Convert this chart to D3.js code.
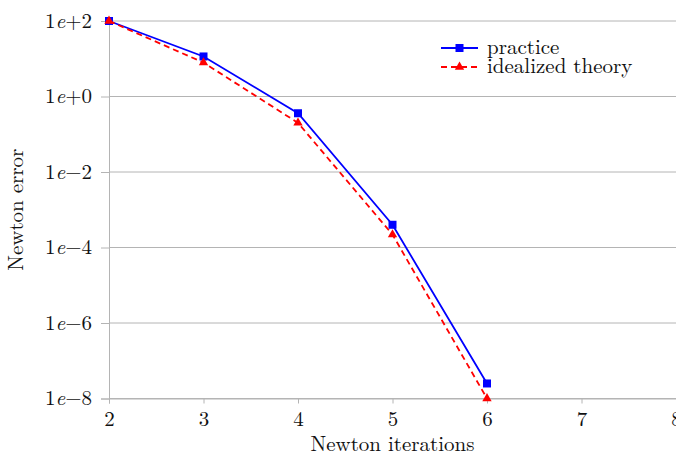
<!DOCTYPE html>
<html>
<head>
<meta charset="utf-8">
<script src="https://d3js.org/d3.v7.min.js"></script>
<style>
  body { margin: 0; background: #fff; }
  text { font-family: "Latin Modern Roman", "DejaVu Serif", serif; fill: #111; }
</style>
</head>
<body>
<script>
// values (Newton error per iteration)
const iterations = [2, 3, 4, 5, 6];
const practice = [100, 11.5, 0.36, 4.0e-4, 2.5e-8];
const theory = [100, 7.9, 0.2, 2.2e-4, 1e-8];
const xTicks = [2, 3, 4, 5, 6, 7, 8];
const yTicks = [1e2, 1, 1e-2, 1e-4, 1e-6, 1e-8];
const yExps = ["+2", "+0", "\u22122", "\u22124", "\u22126", "\u22128"];

const width = 676, height = 456;
const plotLeft = 109, plotRight = 676, plotTop = 21, plotBottom = 398.5;

const svg = d3.select("body").append("svg")
    .attr("width", width)
    .attr("height", height);

const x = d3.scaleLinear().domain([2, 8]).range([plotLeft, plotRight]);
const y = d3.scaleLog().domain([1e-8, 1e2]).range([plotBottom, plotTop]);

const grey = "#b4b4b4";
const fs = 21;

// horizontal grid
svg.append("g").selectAll("line")
    .data(yTicks)
    .enter().append("line")
    .attr("x1", plotLeft).attr("x2", plotRight)
    .attr("y1", d => y(d)).attr("y2", d => y(d))
    .attr("stroke", grey).attr("stroke-width", 1);

// axes
const xAxis = svg.append("g")
    .attr("transform", "translate(0," + plotBottom + ")")
    .call(d3.axisBottom(x).tickValues(xTicks).tickSize(5).tickPadding(8).tickFormat(d3.format("d")));
xAxis.select(".domain").attr("stroke", grey);
xAxis.selectAll(".tick line").attr("stroke", grey);
xAxis.selectAll(".tick text").attr("font-size", fs).attr("fill", "#111")
    .attr("font-family", null);

const yAxis = svg.append("g")
    .attr("transform", "translate(" + plotLeft + ",0)")
    .call(d3.axisLeft(y).tickValues(yTicks).tickSize(8).tickPadding(6).tickFormat(""));
yAxis.select(".domain").attr("stroke", grey);
yAxis.selectAll(".tick line").attr("stroke", grey);

// y tick labels as 1e+2 with italic e
svg.append("g").selectAll("text")
    .data(yTicks)
    .enter().append("text")
    .attr("x", plotLeft - 17)
    .attr("y", d => y(d))
    .attr("dy", "0.33em")
    .attr("text-anchor", "end")
    .attr("font-size", fs)
    .each(function (d, i) {
        const t = d3.select(this);
        t.append("tspan").text("1");
        t.append("tspan").attr("font-style", "italic").text("e");
        t.append("tspan").text(yExps[i]);
    });

// axis titles
svg.append("text")
    .attr("x", (plotLeft + plotRight) / 2)
    .attr("y", 451)
    .attr("text-anchor", "middle")
    .attr("font-size", fs)
    .text("Newton iterations");

svg.append("text")
    .attr("transform", "translate(23," + (plotTop + plotBottom) / 2 + ") rotate(-90)")
    .attr("text-anchor", "middle")
    .attr("font-size", fs)
    .text("Newton error");

// series
const line = d3.line()
    .x(d => x(d[0]))
    .y(d => y(d[1]));

const practiceData = iterations.map((d, i) => [d, practice[i]]);
const theoryData = iterations.map((d, i) => [d, theory[i]]);

svg.append("path")
    .datum(practiceData)
    .attr("d", line)
    .attr("fill", "none")
    .attr("stroke", "#0000ff")
    .attr("stroke-width", 1.8);

svg.append("g").selectAll("rect")
    .data(practiceData)
    .enter().append("rect")
    .attr("x", d => x(d[0]) - 4)
    .attr("y", d => y(d[1]) - 4)
    .attr("width", 8).attr("height", 8)
    .attr("fill", "#0000ff");

svg.append("path")
    .datum(theoryData)
    .attr("d", line)
    .attr("fill", "none")
    .attr("stroke", "#ff0000")
    .attr("stroke-width", 1.8)
    .attr("stroke-dasharray", "6,4");

const tri = d3.symbol().type(d3.symbolTriangle).size(38);
svg.append("g").selectAll("path")
    .data(theoryData)
    .enter().append("path")
    .attr("d", tri)
    .attr("transform", d => "translate(" + x(d[0]) + "," + y(d[1]) + ")")
    .attr("fill", "#ff0000");

// legend
const legend = [
    { name: "practice", color: "#0000ff", dash: null, mark: "square" },
    { name: "idealized theory", color: "#ff0000", dash: "6,4", mark: "triangle" }
];
const lg = svg.append("g").attr("transform", "translate(441,48)");
legend.forEach((d, i) => {
    const row = lg.append("g").attr("transform", "translate(0," + i * 19 + ")");
    row.append("line")
        .attr("x1", 0).attr("x2", 37)
        .attr("stroke", d.color).attr("stroke-width", 1.8)
        .attr("stroke-dasharray", d.dash);
    if (d.mark === "square") {
        row.append("rect").attr("x", 14.5).attr("y", -4).attr("width", 8).attr("height", 8).attr("fill", d.color);
    } else {
        row.append("path").attr("d", tri).attr("transform", "translate(18.5,0)").attr("fill", d.color);
    }
    row.append("text")
        .attr("x", 46)
        .attr("dy", "0.3em")
        .attr("font-size", fs)
        .text(d.name);
});
</script>
</body>
</html>
